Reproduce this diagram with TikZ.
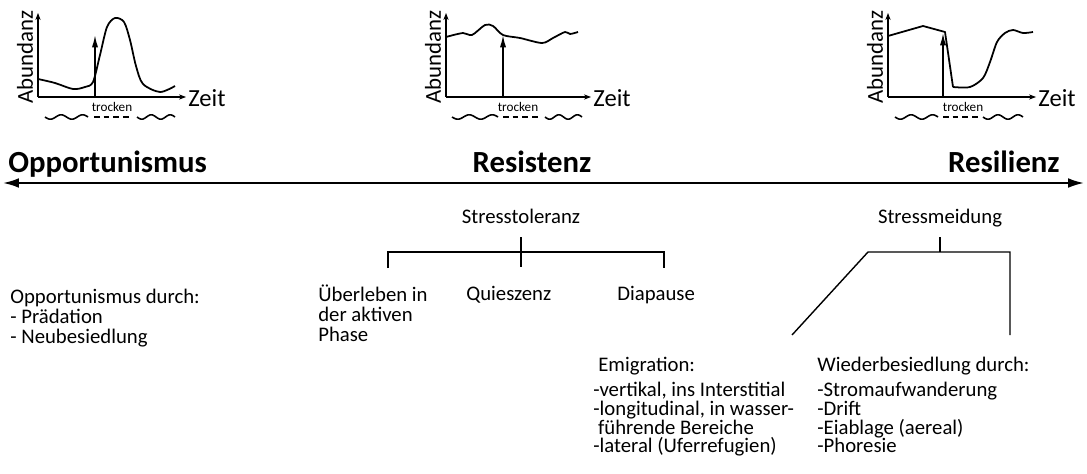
\documentclass[tikz,border=0pt]{standalone}
\usepackage{fontspec}
\setmainfont{Carlito}
\usetikzlibrary{arrows.meta}
\tikzset{
  body/.style={font=\fontsize{11.8}{10.6}\selectfont, inner sep=0pt, align=left},
  bodywide/.style={font=\fontsize{11.8}{11.3}\selectfont, inner sep=0pt, align=left},
  title/.style={font=\fontsize{17.5}{20}\selectfont\bfseries, inner sep=0pt},
  axislabel/.style={font=\fontsize{13}{14}\selectfont, inner sep=0pt},
  zeitlabel/.style={font=\fontsize{14}{16}\selectfont, inner sep=0pt},
  small/.style={font=\fontsize{7.5}{8}\selectfont, inner sep=0pt},
  axis/.style={line width=0.6pt, -{Stealth[length=4pt,width=3pt]}},
  drought/.style={line width=0.9pt, -{Latex[length=7pt,width=3.5pt]}},
  curve/.style={line width=1pt, line join=round},
  wave/.style={line width=0.9pt},
  dashseg/.style={line width=0.9pt, dash pattern=on 3.2pt off 2.3pt},
  mainarrow/.style={line width=1.1pt, {Latex[length=9pt,width=5.5pt]}-{Latex[length=9pt,width=5.5pt]}},
  bracket/.style={line width=0.8pt},
}
\begin{document}
\begin{tikzpicture}[x=0.02cm,y=-0.02cm]
\useasboundingbox (0,0) rectangle (1087,473);

% ---------- chart 1 (Opportunismus)
\coordinate (o1) at (38,97);
\draw[axis] (o1) -- (38,13);
\draw[axis] (o1) -- (186,97);
\node[axislabel, rotate=90] (ab1) at (25,57) {Abundanz};
\node[zeitlabel, anchor=west] (z1) at (188,98) {Zeit};
\draw[curve] plot[smooth, tension=0.5] coordinates {(38,79) (55,83) (73,89) (85,87) (93,82) (100,55) (107,27) (115,18) (124,22) (130,40) (136,66) (143,84) (160,92) (175,86)};
\draw[drought] (95,97) -- (95,35);
\node[small] (t1) at (112,107) {trocken};
\draw[wave] plot[domain=45:88, samples=50] (\x, {117 + 2.2*sin((\x-45)/43*720)});
\draw[dashseg] (94,117) -- (132,117);
\draw[wave] plot[domain=137:175, samples=50] (\x, {117 + 2.2*sin((\x-137)/38*720)});

% ---------- chart 2 (Resistenz)
\coordinate (o2) at (446,97);
\draw[axis] (o2) -- (446,13);
\draw[axis] (o2) -- (591,97);
\node[axislabel, rotate=90] (ab2) at (433,57) {Abundanz};
\node[zeitlabel, anchor=west] (z2) at (593,98) {Zeit};
\draw[curve] plot[smooth, tension=0.5] coordinates {(446,37) (463,33) (472,35) (485,25) (493,26) (503,35) (520,38) (542,43) (553,38) (565,32) (570,34) (578,32)};
\draw[drought] (503,97) -- (503,35);
\node[small] (t2) at (518,107) {trocken};
\draw[wave] plot[domain=452:498, samples=50] (\x, {117 + 2.2*sin((\x-452)/46*720)});
\draw[dashseg] (503,117) -- (540,117);
\draw[wave] plot[domain=545:582, samples=50] (\x, {117 + 2.2*sin((\x-545)/37*720)});

% ---------- chart 3 (Resilienz)
\coordinate (o3) at (888,97);
\draw[axis] (o3) -- (888,13);
\draw[axis] (o3) -- (1036,97);
\node[axislabel, rotate=90] (ab3) at (875,57) {Abundanz};
\node[zeitlabel, anchor=west] (z3) at (1038,98) {Zeit};
\draw[curve] (888,36) -- (923,26) -- (945,32) -- (953,87)
  plot[smooth, tension=0.5] coordinates {(953,87) (970,87) (983,78) (990,62) (997,42) (1005,33) (1013,30) (1023,33) (1033,32)};
\draw[drought] (943,97) -- (943,33);
\node[small] (t3) at (963,107) {trocken};
\draw[wave] plot[domain=895:938, samples=50] (\x, {117 + 2.2*sin((\x-895)/43*720)});
\draw[dashseg] (943,117) -- (978,117);
\draw[wave] plot[domain=983:1023, samples=50] (\x, {117 + 2.2*sin((\x-983)/40*720)});

% ---------- main axis
\coordinate (L) at (3,183);
\coordinate (R) at (1084,183);
\draw[mainarrow] (L) -- (R);
\node[title, anchor=base west] (opp) at (8,172) {Opportunismus};
\node[title, anchor=base] (res) at (532,172) {Resistenz};
\node[title, anchor=base east] (resil) at (1060,172) {Resilienz};

% ---------- Stresstoleranz
\node[body, anchor=base] (tol) at (521,223) {Stresstoleranz};
\coordinate (tolTop) at (521,237);
\coordinate (tolMid) at (521,252);
\coordinate (tolBot) at (521,267);
\coordinate (tolL) at (388,252);
\coordinate (tolLb) at (388,268);
\coordinate (tolR) at (664,252);
\coordinate (tolRb) at (664,268);
\draw[bracket] (tolTop) -- (tolBot);
\draw[bracket] (tolLb) -- (tolL) -- (tolR) -- (tolRb);
\node[bodywide, anchor=north west] (ueb) at (318,285) {Überleben in\\der aktiven\\Phase};
\node[body, anchor=base west] (qui) at (466,300) {Quieszenz};
\node[body, anchor=base west] (dia) at (617,300) {Diapause};

% ---------- Stressmeidung
\node[body, anchor=base] (mei) at (940,223) {Stressmeidung};
\coordinate (meiTop) at (940,237);
\coordinate (meiMid) at (940,252);
\coordinate (meiL) at (868,252);
\coordinate (meiR) at (1010,252);
\coordinate (emiEnd) at (792,335);
\coordinate (wieEnd) at (1010,335);
\draw[bracket] (meiTop) -- (meiMid);
\draw[bracket] (emiEnd) -- (meiL) -- (meiR) -- (wieEnd);

% ---------- text blocks
\node[bodywide, anchor=north west] (oppd) at (10,289) {Opportunismus durch:\\- Prädation\\- Neubesiedlung};
\node[body, anchor=base west] (emi) at (598,371) {Emigration:};
\node[body, anchor=north west] (emil) at (593,382) {-vertikal, ins Interstitial\\-longitudinal, in wasser-\\\ führende Bereiche\\-lateral (Uferrefugien)};
\node[body, anchor=base west] (wie) at (817,371) {Wiederbesiedlung durch:};
\node[body, anchor=north west] (wiel) at (817,382) {-Stromaufwanderung\\-Drift\\-Eiablage (aereal)\\-Phoresie};
\end{tikzpicture}
\end{document}
